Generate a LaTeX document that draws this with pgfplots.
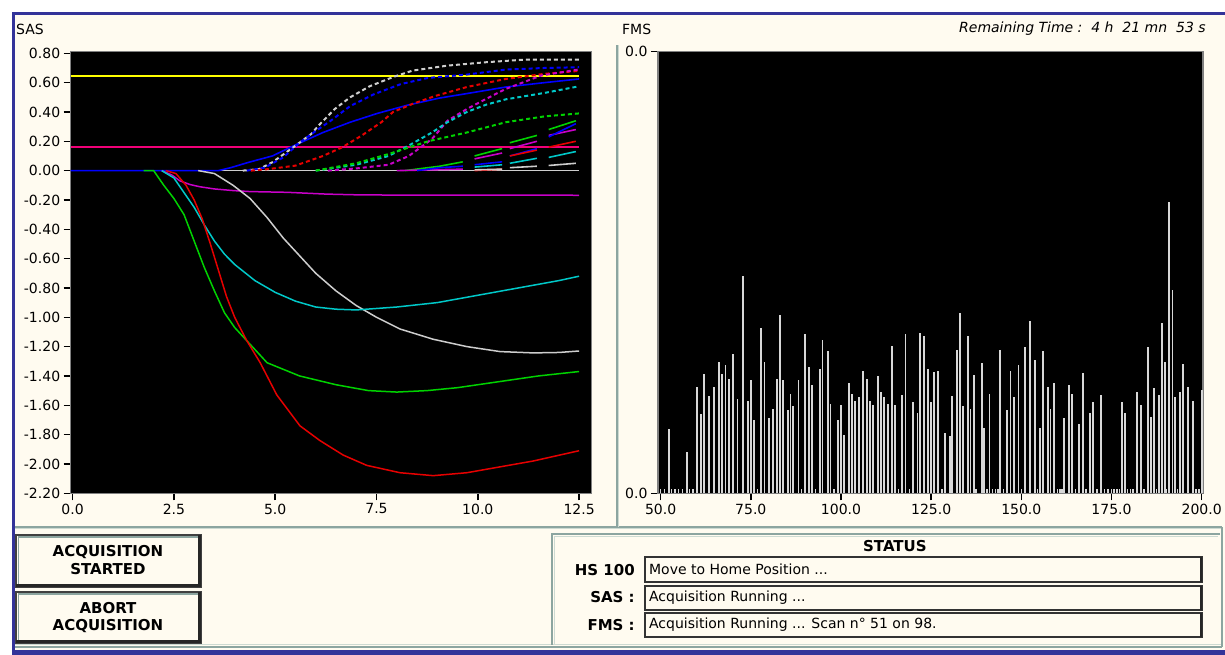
\documentclass[border=0pt]{standalone}
\usepackage{pgfplots}
\pgfplotsset{compat=1.18}
\usepackage{fontspec}
\setmainfont{DejaVu Sans}
\definecolor{cream}{RGB}{255,251,240}
\definecolor{frameblue}{RGB}{51,51,153}
\definecolor{sepcol}{RGB}{140,165,160}
\definecolor{sepl}{RGB}{205,218,210}
\definecolor{cgreen}{RGB}{0,210,0}
\definecolor{cred}{RGB}{230,0,0}
\definecolor{ccyan}{RGB}{0,200,200}
\definecolor{cgrey}{RGB}{205,205,205}
\definecolor{cmag}{RGB}{200,0,200}
\definecolor{refpink}{RGB}{240,0,120}
\definecolor{cyel}{RGB}{255,255,0}
\definecolor{cblue}{RGB}{0,0,255}
\definecolor{barcol}{RGB}{215,215,215}
\newcommand\tl{\fontsize{14}{16}\selectfont}
\newcommand\bl{\fontsize{15}{17}\selectfont\bfseries}
\begin{document}
\begin{tikzpicture}
\begin{scope}[x=1pt,y=1pt]
\path[use as bounding box] (0,0) rectangle (1225,655);
\fill[white] (0,0) rectangle (1225,655);
\fill[cream] (15,5) rectangle (1225,640);
\fill[frameblue] (12,640) rectangle (1225,643);
\fill[frameblue] (12,0) rectangle (15,643);
\fill[frameblue] (12,0) rectangle (1225,5);
% separators
\draw[sepcol, line width=1.5] (15,128) -- (1222,128);
\draw[sepl, line width=1] (15,126) -- (1222,126);
\draw[sepcol, line width=1.5] (617,128) -- (617,610);
\draw[sepl, line width=1] (619,128) -- (619,610);
\draw[sepcol, line width=1.5] (15,8) -- (1222,8);
\draw[sepl, line width=1] (15,10) -- (1222,10);
\draw[sepcol, line width=1.5] (1222,8) -- (1222,128);
% titles
\node[anchor=west, inner sep=0] at (16,626) {\tl SAS};
\node[anchor=west, inner sep=0] at (622,626) {\tl FMS};
\node[anchor=east, inner sep=0] at (1206,626) {\tl\itshape Remaining Time :~~4 h~~21 mn~~53 s};
\end{scope}

% ---------------- SAS axis ----------------
\begin{axis}[
  at={(70.7pt,161.7pt)}, anchor=south west, scale only axis,
  width=521pt, height=441.6pt,
  xmin=-0.047, xmax=12.81, ymin=-2.2, ymax=0.811,
  axis background/.style={fill=black},
  axis line style={draw=gray, line width=1.2pt},
  xtick={0,2.5,5,7.5,10,12.5},
  xticklabels={0.0,2.5,5.0,7.5,10.0,12.5},
  ytick={-2.2,-2,-1.8,-1.6,-1.4,-1.2,-1,-0.8,-0.6,-0.4,-0.2,0,0.2,0.4,0.6,0.8},
  yticklabels={-2.20,-2.00,-1.80,-1.60,-1.40,-1.20,-1.00,-0.80,-0.60,-0.40,-0.20,0.00,0.20,0.40,0.60,0.80},
  xtick pos=left, ytick pos=left, tick align=outside,
  major tick length=7pt, tick style={black, line width=1.5pt},
  tick label style={font=\tl},
  unbounded coords=jump,
  every axis plot/.append style={line join=round},
]
% horizontal reference lines
\addplot[cyel, line width=1.4pt] coordinates {(-0.05,0.645) (12.5,0.645)};
\addplot[refpink, line width=1.8pt] coordinates {(-0.05,0.16) (12.5,0.16)};
\addplot[cgrey, line width=1pt] coordinates {(3.5,0) (12.5,0)};
% blue solid (baseline then rise)
\addplot[cblue, line width=1.6pt] coordinates {(-0.05,0) (3.6,0) (3.9,0.02) (4.35,0.057) (4.93,0.10) (5.5,0.175) (6.18,0.26) (6.85,0.33) (7.52,0.39) (8.29,0.448) (9.06,0.495) (9.92,0.534) (10.69,0.57) (11.65,0.60) (12.5,0.625)};
% dashed positive curves
\addplot[cgrey, line width=2pt, dash pattern=on 4pt off 3pt] coordinates {(4.2,0) (4.6,0.01) (4.93,0.057) (5.2,0.11) (5.5,0.17) (5.89,0.25) (6.08,0.31) (6.47,0.42) (6.85,0.50) (7.33,0.575) (7.9,0.637) (8.39,0.682) (9.25,0.716) (10.2,0.739) (11.17,0.757) (12.5,0.757)};
\addplot[cblue, line width=2pt, dash pattern=on 4pt off 3pt] coordinates {(4.3,0) (4.74,0.02) (5.2,0.09) (5.6,0.19) (6.0,0.27) (6.37,0.34) (6.85,0.44) (7.43,0.52) (8.1,0.59) (8.77,0.632) (9.73,0.655) (10.69,0.689) (11.65,0.70) (12.5,0.705)};
\addplot[cred, line width=2pt, dash pattern=on 4pt off 3pt] coordinates {(4.4,0) (4.82,0.01) (5.5,0.034) (6.18,0.10) (6.66,0.16) (7.14,0.24) (7.62,0.33) (7.91,0.40) (8.39,0.455) (8.96,0.51) (9.73,0.57) (10.69,0.625) (11.65,0.66) (12.5,0.68)};
\addplot[cmag, line width=2pt, dash pattern=on 4pt off 3pt] coordinates {(6.3,0) (7.0,0.015) (7.8,0.04) (8.3,0.1) (8.87,0.216) (9.25,0.34) (9.73,0.42) (10.21,0.49) (10.69,0.557) (11.56,0.648) (12.5,0.69)};
\addplot[ccyan, line width=2pt, dash pattern=on 4pt off 3pt] coordinates {(6.0,0) (7.0,0.04) (7.8,0.1) (8.29,0.17) (8.87,0.26) (9.25,0.33) (9.73,0.40) (10.21,0.45) (10.69,0.486) (11.65,0.53) (12.5,0.575)};
\addplot[cgreen, line width=2pt, dash pattern=on 4pt off 3pt] coordinates {(6.0,0) (7.0,0.05) (7.81,0.114) (8.77,0.20) (9.73,0.26) (10.69,0.33) (11.65,0.37) (12.5,0.39)};
% late solid segments
\addplot[cgreen, line width=1.6pt] coordinates {(8.2,0) (9.06,0.03) (9.63,0.06) (9.75,nan) (9.92,0.10) (10.6,0.15) (10.7,nan) (10.79,0.19) (11.46,0.24) (11.6,nan) (11.75,0.28) (12.42,0.34)};
\addplot[cmag, line width=1.6pt] coordinates {(8.0,0) (9.63,0.01) (9.75,nan) (9.92,0.08) (10.6,0.12) (10.7,nan) (10.79,0.15) (11.46,0.20) (11.6,nan) (11.75,0.24) (12.42,0.28)};
\addplot[cblue, line width=1.6pt] coordinates {(8.5,0) (9.06,0.02) (9.63,0.03) (9.75,nan) (9.92,0.04) (10.6,0.06) (10.7,nan) (10.79,0.10) (11.46,0.15) (11.6,nan) (11.75,0.23) (12.42,0.32)};
\addplot[cred, line width=1.6pt] coordinates {(9.92,0.0) (10.6,0.01) (10.7,nan) (10.79,0.10) (11.46,0.14) (11.6,nan) (11.75,0.16) (12.42,0.20)};
\addplot[ccyan, line width=1.6pt] coordinates {(9.92,0.024) (10.6,0.04) (10.7,nan) (10.79,0.05) (11.46,0.084) (11.6,nan) (11.75,0.09) (12.42,0.13)};
\addplot[cgrey, line width=1.6pt] coordinates {(9.92,0.005) (10.6,0.01) (10.7,nan) (10.79,0.02) (11.46,0.03) (11.6,nan) (11.75,0.035) (12.42,0.05)};
% negative curves
\addplot[cmag, line width=1.5pt] coordinates {(2.2,0) (2.45,-0.03) (2.65,-0.07) (2.9,-0.095) (3.14,-0.11) (3.5,-0.125) (3.96,-0.136) (4.38,-0.143) (5.3,-0.148) (6.25,-0.16) (7.0,-0.165) (8,-0.167) (12.5,-0.168)};
\addplot[cgrey, line width=1.5pt] coordinates {(3.1,0) (3.5,-0.02) (3.96,-0.10) (4.38,-0.19) (4.8,-0.32) (5.2,-0.46) (5.6,-0.58) (6.0,-0.70) (6.5,-0.82) (7.0,-0.92) (7.5,-1.0) (8.08,-1.08) (8.9,-1.15) (9.73,-1.2) (10.55,-1.234) (11.37,-1.243) (12.0,-1.24) (12.5,-1.23)};
\addplot[ccyan, line width=1.5pt] coordinates {(2.2,0) (2.5,-0.05) (2.8,-0.17) (3.0,-0.25) (3.25,-0.37) (3.5,-0.48) (3.75,-0.57) (4.0,-0.64) (4.5,-0.75) (5.0,-0.83) (5.5,-0.89) (6.0,-0.93) (6.5,-0.945) (7.0,-0.95) (7.5,-0.94) (8.0,-0.93) (9.0,-0.9) (10,-0.85) (11,-0.8) (12,-0.75) (12.5,-0.72)};
\addplot[cgreen, line width=1.5pt] coordinates {(1.75,0) (2.0,0) (2.25,-0.1) (2.5,-0.19) (2.75,-0.3) (3.0,-0.48) (3.25,-0.66) (3.5,-0.82) (3.75,-0.97) (4.0,-1.07) (4.3,-1.16) (4.8,-1.31) (5.6,-1.40) (6.5,-1.46) (7.3,-1.50) (8.0,-1.51) (8.75,-1.50) (9.5,-1.48) (10.5,-1.44) (11.5,-1.40) (12.5,-1.37)};
\addplot[cred, line width=1.5pt] coordinates {(2.3,0) (2.55,-0.02) (2.8,-0.1) (3.0,-0.2) (3.2,-0.33) (3.4,-0.5) (3.6,-0.68) (3.8,-0.86) (4.0,-1.0) (4.15,-1.08) (4.3,-1.16) (4.63,-1.31) (5.04,-1.53) (5.61,-1.74) (6.1,-1.84) (6.68,-1.94) (7.26,-2.01) (8.08,-2.06) (8.9,-2.08) (9.73,-2.06) (10.55,-2.02) (11.37,-1.98) (12.5,-1.91)};
\end{axis}

% ---------------- FMS axis ----------------
\begin{axis}[
  at={(658pt,161.7pt)}, anchor=south west, scale only axis,
  width=545pt, height=441.6pt,
  xmin=49.25, xmax=200.35, ymin=0, ymax=441.6,
  axis background/.style={fill=black},
  axis line style={draw=gray, line width=1.2pt},
  xtick={50,75,100,125,150,175,200},
  xticklabels={50.0,75.0,100.0,125.0,150.0,175.0,200.0},
  ytick={0,441.6}, yticklabels={0.0,0.0},
  xtick pos=left, ytick pos=left, tick align=outside,
  major tick length=7pt, tick style={black, line width=1.5pt},
  tick label style={font=\tl},
]
\addplot[ycomb, draw=barcol, line width=1.8pt] coordinates {
(52.4,64) (57.4,41) (60.1,106) (61.2,79) (62.0,119) (63.3,97) (64.9,106) (66.2,131) (67.1,119) (68.0,128)
(69.0,114) (70.0,139) (71.3,94) (72.8,217) (74.3,92) (75.1,113) (75.9,73) (77.8,165) (78.8,131) (80.1,75)
(81.1,84) (82.2,114) (83.1,178) (84.0,113) (85.2,83) (86.0,99) (86.8,87) (88.2,113) (90.0,159) (91.1,126)
(92.0,108) (94.1,124) (94.9,153) (96.3,142) (97.1,89) (99.2,73) (100.0,88) (100.9,58) (102.2,110) (103.0,99)
(103.9,92) (105.1,96) (106.0,122) (107.2,114) (108.0,92) (108.8,88) (110.3,117) (111.0,101) (111.9,96) (113.1,89)
(114.1,147) (114.9,88) (117.0,98) (117.9,159) (119.9,91) (121.2,80) (122.0,160) (123.0,157) (124.1,124) (125.0,91)
(125.8,121) (127.0,122) (128.8,60) (130.2,57) (130.8,97) (132.1,143) (133.0,180) (133.9,87) (135.2,157) (135.9,84)
(136.8,118) (139.0,130) (139.7,65) (141.2,99) (144.1,143) (146.1,83) (147.0,122) (147.9,96) (149.2,128) (151.0,146)
(152.3,172) (153.8,133) (155.1,65) (156.0,142) (157.3,106) (158.1,84) (159.0,110) (161.9,75) (163.2,108) (164.1,99)
(166.1,69) (167.0,120) (169.0,80) (169.9,91) (172.2,98) (177.9,91) (178.8,80) (182.1,101) (183.1,88) (185.1,146)
(185.9,76) (186.9,105) (188.1,98) (188.9,170) (189.8,131) (191.0,291) (191.9,203) (192.6,96) (194.0,101) (194.9,129)
(196.3,106) (197.7,92) (200.0,103)};
\addplot[ycomb, draw=barcol, line width=1.5pt] coordinates {
(50,4) (51,4) (53,4) (54,4) (55,4) (56,4) (58,4) (59,4) (76.8,4) (89,4) (93,4) (98,4) (116,4) (119,4) (128,4)
(137.5,4) (140.5,4) (142,4) (142.8,4) (143.5,4) (145,4) (150,4) (154.5,4) (160,4) (160.7,4) (161.3,4) (165,4)
(168,4) (171,4) (173,4) (174,4) (175,4) (175.7,4) (176.5,4) (177.2,4) (179.5,4) (180.3,4) (181,4) (184,4)
(187.5,4) (190.3,4) (193.3,4) (198.5,4) (199.3,4)};
\end{axis}

\begin{scope}[x=1pt,y=1pt]
% ---------------- buttons ----------------
\fill[cream] (16,68) rectangle (201,120);
\draw[black!75, line width=1.2] (16,68) rectangle (201,120);
\draw[black!85, line width=2.5] (199.5,68) -- (199.5,120);
\draw[black!85, line width=2.5] (16,69.2) -- (201,69.2);
\draw[sepcol, line width=1.5] (18.5,71) -- (18.5,118) -- (198,118);
\node[inner sep=0] at (108,103) {\bl ACQUISITION};
\node[inner sep=0] at (108,86) {\bl STARTED};

\fill[cream] (16,12) rectangle (201,63);
\draw[black!75, line width=1.2] (16,12) rectangle (201,63);
\draw[black!85, line width=2.5] (199.5,12) -- (199.5,63);
\draw[black!85, line width=2.5] (16,13.2) -- (201,13.2);
\draw[sepcol, line width=1.5] (18.5,15) -- (18.5,61) -- (198,61);
\node[inner sep=0] at (108,46.5) {\bl ABORT};
\node[inner sep=0] at (108,29) {\bl ACQUISITION};

% ---------------- status panel ----------------
\draw[sepcol, line width=1.5] (552,10) -- (552,121) -- (1220,121);
\draw[sepl, line width=1.2] (554.5,10) -- (554.5,118.5) -- (1218,118.5);
\node[inner sep=0] at (895,109) {\bl STATUS};
\node[anchor=east, inner sep=0] at (635,85) {\bl HS 100};
\node[anchor=east, inner sep=0] at (635,57.5) {\bl SAS :};
\node[anchor=east, inner sep=0] at (635,30) {\bl FMS :};
\foreach \ya/\yb in {73/98, 45/69, 18/42} {
  \fill[cream] (645,\ya) rectangle (1202,\yb);
  \draw[black!80, line width=1.4] (645,\ya) rectangle (1202,\yb);
  \draw[black!85, line width=2.4] (1201,\ya) -- (1201,\yb);
}
\node[anchor=west, inner sep=0] at (649,85.5) {\tl Move to Home Position ...};
\node[anchor=west, inner sep=0] at (649,57) {\tl Acquisition Running ...};
\node[anchor=west, inner sep=0] at (649,30) {\tl Acquisition Running ... Scan n° 51 on 98.};
\end{scope}
\end{tikzpicture}
\end{document}
